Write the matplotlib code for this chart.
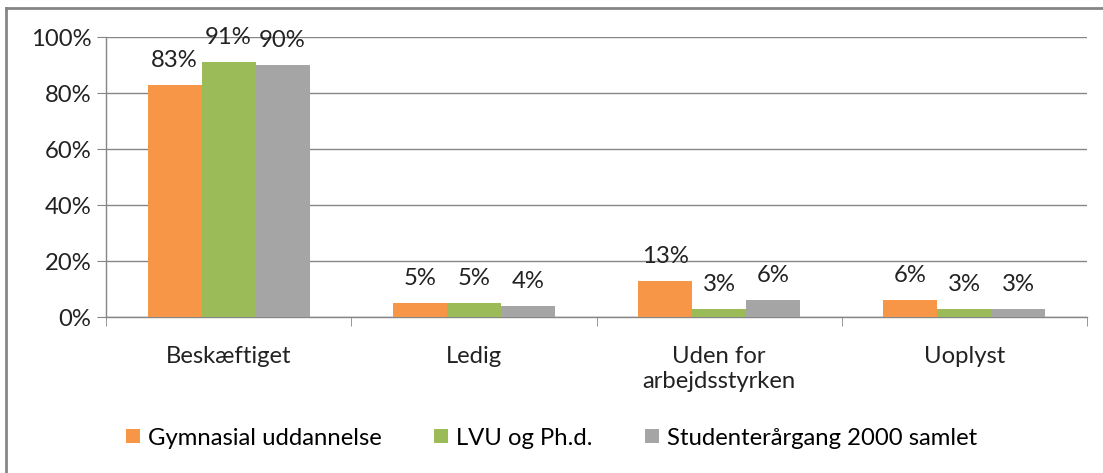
import numpy as np
import matplotlib
matplotlib.use('Agg')
import matplotlib.pyplot as plt
from matplotlib.lines import Line2D

# data
categories = ['Beskæftiget', 'Ledig', 'Uden for\narbejdsstyrken', 'Uoplyst']
series_names = ['Gymnasial uddannelse', 'LVU og Ph.d.', 'Studenterårgang 2000 samlet']
gymnasial = [83, 5, 13, 6]
lvu = [91, 5, 3, 3]
samlet = [90, 4, 6, 3]
y_ticks = [0, 20, 40, 60, 80, 100]

colors = ['#F79646', '#9BBB59', '#A5A5A5']
grid_col = '#868686'

plt.rcParams['font.family'] = ['Lato', 'DejaVu Sans']
fs = 17.2

fig = plt.figure(figsize=(11.03, 4.73), dpi=100)
ax = fig.add_axes([106 / 1103, 1 - 317 / 473, (1087 - 106) / 1103, (317 - 37) / 473])

x = np.arange(len(categories))
w = 0.22
for i, (vals, name) in enumerate(zip([gymnasial, lvu, samlet], series_names)):
    pos = x + (i - 1) * w
    ax.bar(pos, vals, width=w, color=colors[i], label=name, zorder=3)
    for px, v in zip(pos, vals):
        ax.annotate('%d%%' % v, (px, v), xytext=(0, 13), textcoords='offset points',
                    ha='center', va='baseline', fontsize=fs, color='#222222', zorder=4)

ax.set_xlim(-0.5, len(categories) - 0.5)
ax.set_ylim(0, 100)
ax.set_yticks(y_ticks)
ax.set_yticklabels(['%d%%' % t for t in y_ticks], fontsize=fs, color='#222222')
ax.yaxis.grid(True, color=grid_col, linewidth=1.0, zorder=0)
ax.tick_params(axis='y', length=6.5, color=grid_col, pad=4)

ax.set_xticks(x)
ax.set_xticklabels(categories, fontsize=fs, color='#222222', linespacing=1.2)
ax.set_xticks(np.arange(-0.5, len(categories)), minor=True)
ax.tick_params(axis='x', which='major', length=0, pad=21)
ax.tick_params(axis='x', which='minor', length=6.5, color=grid_col)

for s in ['top', 'right']:
    ax.spines[s].set_visible(False)
for s in ['left', 'bottom']:
    ax.spines[s].set_color(grid_col)
    ax.spines[s].set_linewidth(1.0)

fig.legend(loc='center', bbox_to_anchor=(0.5, 1 - 438 / 473), ncol=3, frameon=False,
           fontsize=fs, handlelength=0.58, handleheight=0.58, handletextpad=0.33,
           columnspacing=2.2)

# chart frame edges
fig.add_artist(Line2D([6 / 1103, 6 / 1103], [0, 1 - 8 / 473], transform=fig.transFigure,
                      color=grid_col, linewidth=2))
fig.add_artist(Line2D([6 / 1103, 1], [1 - 8 / 473, 1 - 8 / 473], transform=fig.transFigure,
                      color=grid_col, linewidth=2))

fig.savefig('out.png', dpi=100)
